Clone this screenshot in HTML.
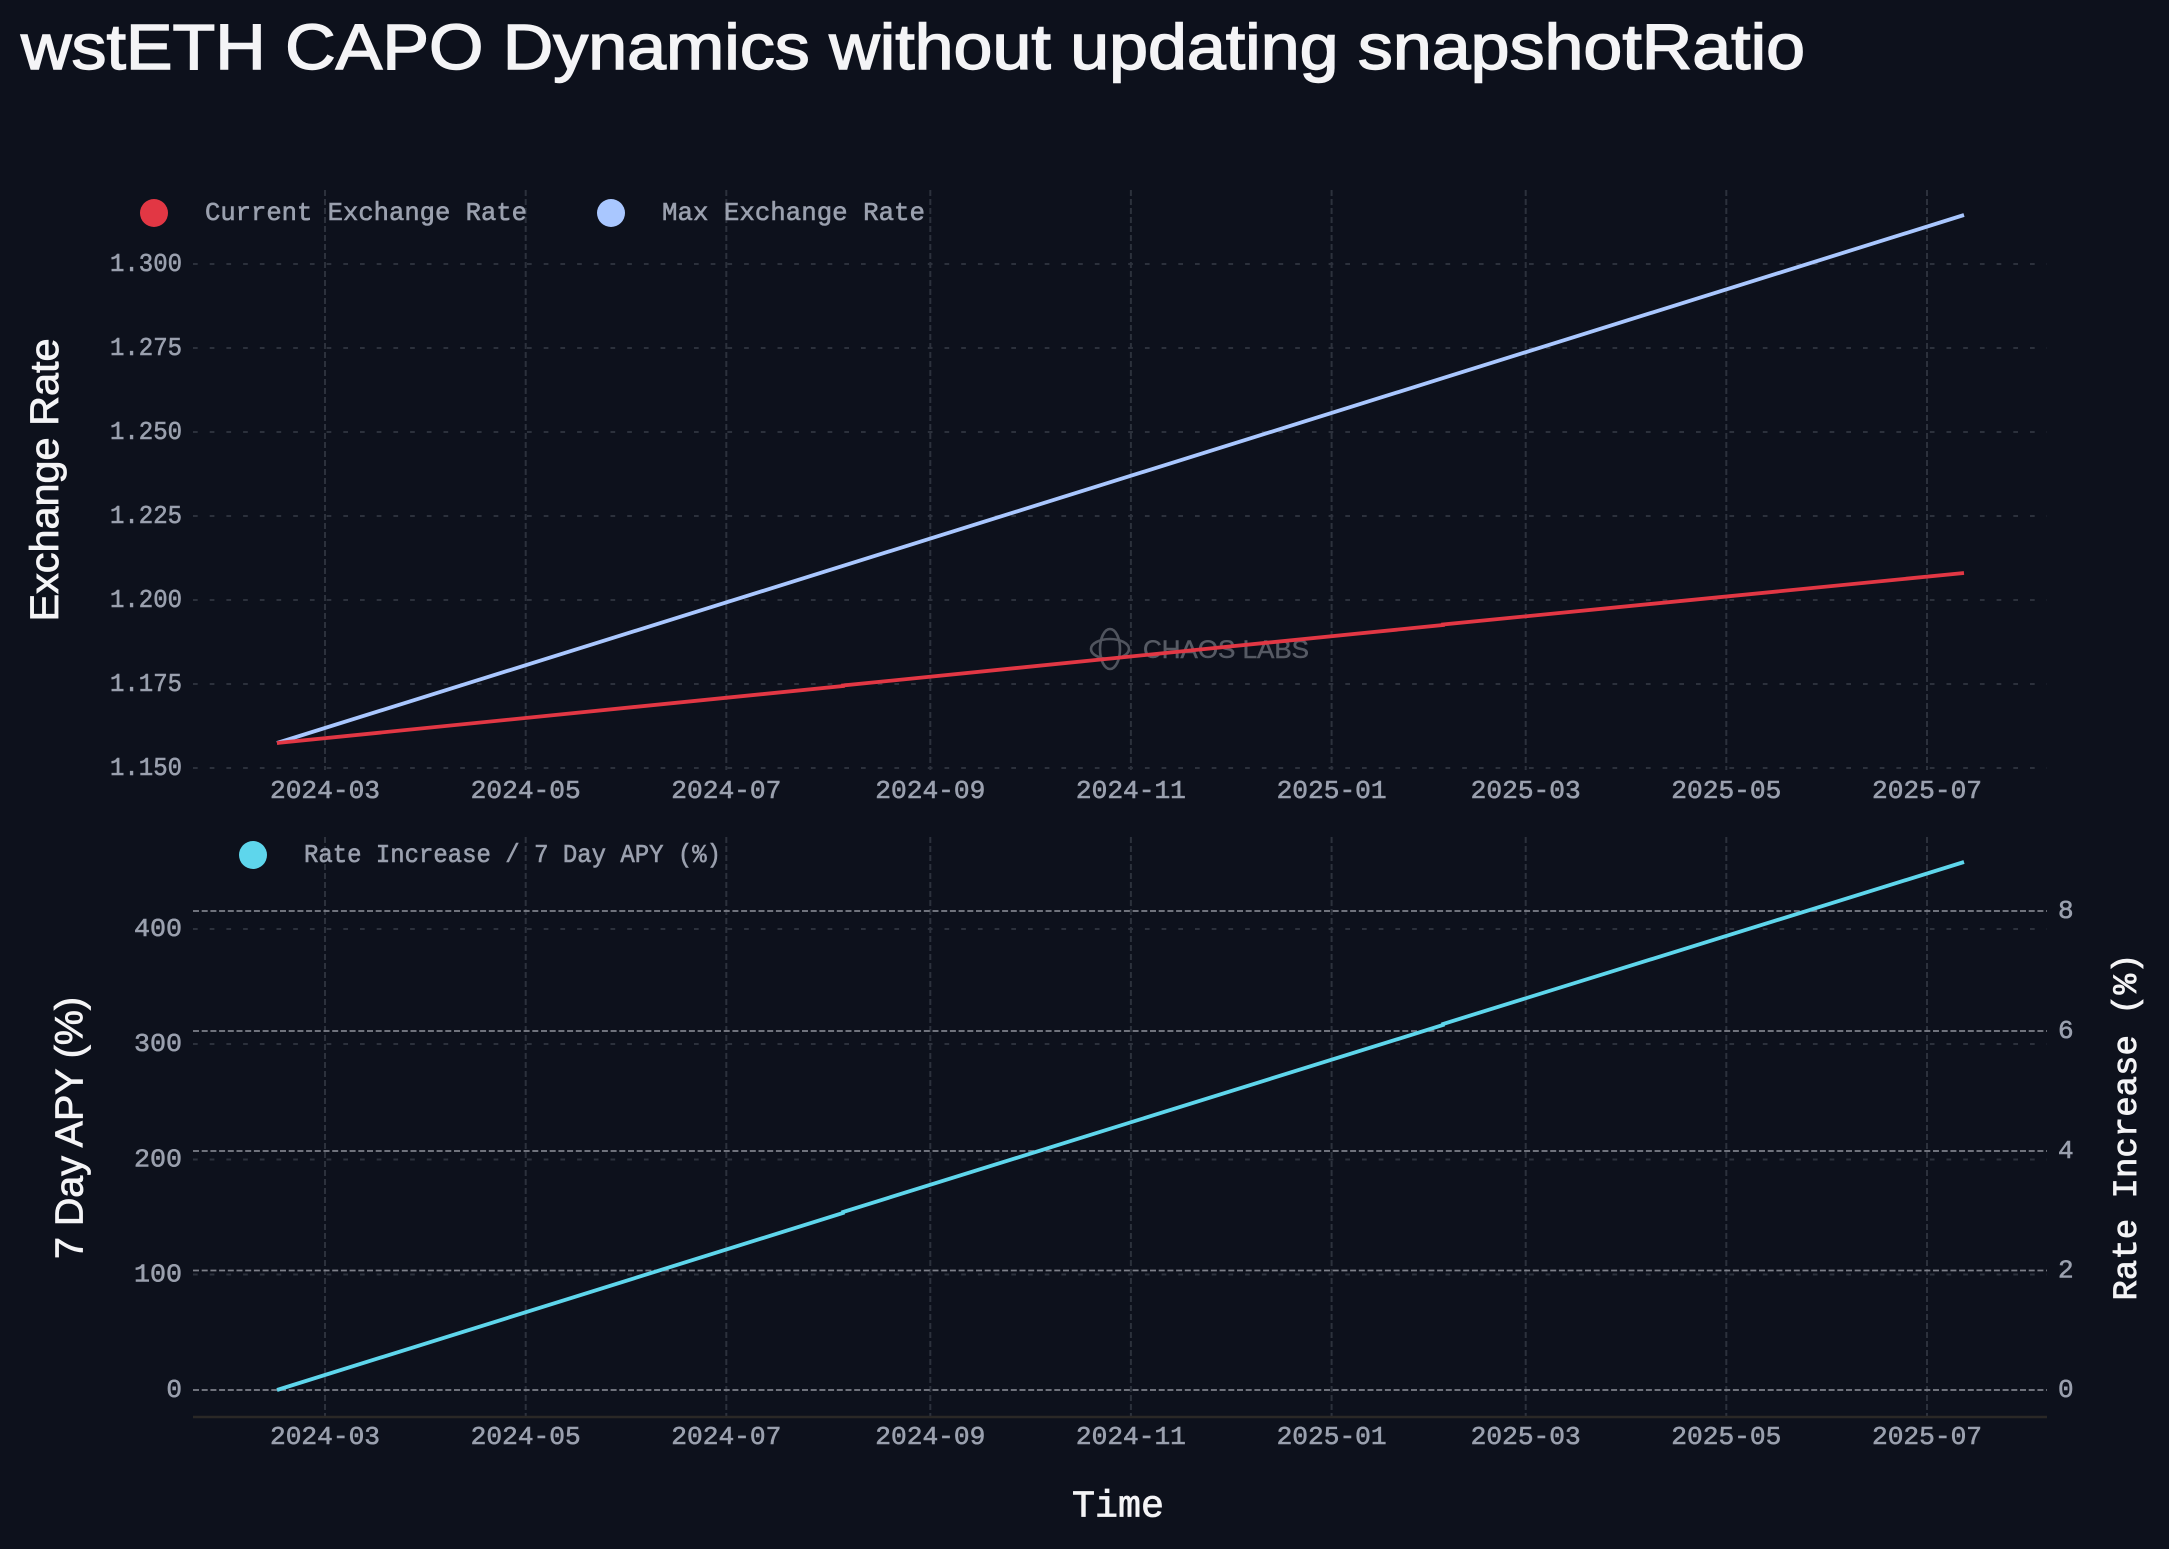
<!DOCTYPE html>
<html>
<head>
<meta charset="utf-8">
<style>
  html, body { margin: 0; padding: 0; background: #0d111c; }
  svg { display: block; }
  .tick { font-family: "Liberation Mono", monospace; font-size: 26px; fill: #9aa0ae; stroke: #9aa0ae; stroke-width: 0.6px; }
  .leg { font-family: "Liberation Mono", monospace; font-size: 26px; fill: #9aa0ae; stroke: #9aa0ae; stroke-width: 0.6px; }
  .sans { font-family: "Liberation Sans", sans-serif; fill: #f4f4f6; stroke: #f4f4f6; stroke-width: 0.8px; }
  .mono { font-family: "Liberation Mono", monospace; fill: #f4f4f6; stroke: #f4f4f6; stroke-width: 0.8px; }
</style>
</head>
<body>
<svg width="2169" height="1549" viewBox="0 0 2169 1549" xmlns="http://www.w3.org/2000/svg">
  <rect x="0" y="0" width="2169" height="1549" fill="#0d111c"/>

  <!-- Title -->
  <text class="sans" x="21" y="69" font-size="64" style="stroke-width:1.4px" textLength="1784" lengthAdjust="spacingAndGlyphs">wstETH CAPO Dynamics without updating snapshotRatio</text>

  <!-- ================= TOP PLOT ================= -->
  <g stroke="#2c313c" stroke-width="2" stroke-dasharray="4.7 12">
    <line x1="193" y1="264" x2="2047" y2="264"/>
    <line x1="193" y1="348" x2="2047" y2="348"/>
    <line x1="193" y1="432" x2="2047" y2="432"/>
    <line x1="193" y1="516" x2="2047" y2="516"/>
    <line x1="193" y1="600" x2="2047" y2="600"/>
    <line x1="193" y1="684" x2="2047" y2="684"/>
    <line x1="193" y1="768" x2="2047" y2="768"/>
  </g>
  <g stroke="#2c313c" stroke-width="2" stroke-dasharray="6 3">
    <line x1="325" y1="190" x2="325" y2="770"/>
    <line x1="525.7" y1="190" x2="525.7" y2="770"/>
    <line x1="726.3" y1="190" x2="726.3" y2="770"/>
    <line x1="930.3" y1="190" x2="930.3" y2="770"/>
    <line x1="1130.9" y1="190" x2="1130.9" y2="770"/>
    <line x1="1331.6" y1="190" x2="1331.6" y2="770"/>
    <line x1="1525.7" y1="190" x2="1525.7" y2="770"/>
    <line x1="1726.3" y1="190" x2="1726.3" y2="770"/>
    <line x1="1927" y1="190" x2="1927" y2="770"/>
  </g>

  <g class="tick" text-anchor="end" dominant-baseline="central">
    <text x="182" y="264" textLength="72" lengthAdjust="spacingAndGlyphs">1.300</text>
    <text x="182" y="348" textLength="72" lengthAdjust="spacingAndGlyphs">1.275</text>
    <text x="182" y="432" textLength="72" lengthAdjust="spacingAndGlyphs">1.250</text>
    <text x="182" y="516" textLength="72" lengthAdjust="spacingAndGlyphs">1.225</text>
    <text x="182" y="600" textLength="72" lengthAdjust="spacingAndGlyphs">1.200</text>
    <text x="182" y="684" textLength="72" lengthAdjust="spacingAndGlyphs">1.175</text>
    <text x="182" y="768" textLength="72" lengthAdjust="spacingAndGlyphs">1.150</text>
  </g>

  <g class="tick" text-anchor="middle" dominant-baseline="central">
    <text x="325" y="791" textLength="110" lengthAdjust="spacingAndGlyphs">2024-03</text>
    <text x="525.7" y="791" textLength="110" lengthAdjust="spacingAndGlyphs">2024-05</text>
    <text x="726.3" y="791" textLength="110" lengthAdjust="spacingAndGlyphs">2024-07</text>
    <text x="930.3" y="791" textLength="110" lengthAdjust="spacingAndGlyphs">2024-09</text>
    <text x="1130.9" y="791" textLength="110" lengthAdjust="spacingAndGlyphs">2024-11</text>
    <text x="1331.6" y="791" textLength="110" lengthAdjust="spacingAndGlyphs">2025-01</text>
    <text x="1525.7" y="791" textLength="110" lengthAdjust="spacingAndGlyphs">2025-03</text>
    <text x="1726.3" y="791" textLength="110" lengthAdjust="spacingAndGlyphs">2025-05</text>
    <text x="1927" y="791" textLength="110" lengthAdjust="spacingAndGlyphs">2025-07</text>
  </g>

  <text class="sans" font-size="40" text-anchor="middle" dominant-baseline="central" transform="translate(45,480) rotate(-90)" textLength="283" lengthAdjust="spacingAndGlyphs">Exchange Rate</text>

  <!-- watermark -->
  <g>
    <ellipse cx="1110" cy="649" rx="10" ry="20" fill="none" stroke="#50545e" stroke-width="2.6"/>
    <ellipse cx="1110" cy="649" rx="19" ry="10" fill="none" stroke="#50545e" stroke-width="2.6"/>
    <text x="1143" y="650" font-family="Liberation Sans, sans-serif" font-size="25" fill="#565a64" stroke="#565a64" stroke-width="0.5" dominant-baseline="central" textLength="166" lengthAdjust="spacingAndGlyphs">CHAOS LABS</text>
  </g>

  <!-- series top -->
  <polyline points="277,743 1964,215" fill="none" stroke="#a9c7ff" stroke-width="3.8"/>
  <polyline points="277,743 843,686 843,685.5 1443,625 1443,624.5 1964,573" fill="none" stroke="#e23744" stroke-width="3.8"/>

  <!-- legend top -->
  <circle cx="154" cy="213" r="14" fill="#e23744"/>
  <text class="leg" x="205" y="213" dominant-baseline="central" textLength="322" lengthAdjust="spacingAndGlyphs">Current Exchange Rate</text>
  <circle cx="611" cy="213" r="14" fill="#a9c7ff"/>
  <text class="leg" x="662" y="213" dominant-baseline="central" textLength="263" lengthAdjust="spacingAndGlyphs">Max Exchange Rate</text>

  <!-- ================= BOTTOM PLOT ================= -->
  <g stroke="#2c313c" stroke-width="2" stroke-dasharray="4.7 12">
    <line x1="193" y1="1274.5" x2="2047" y2="1274.5"/>
    <line x1="193" y1="1159.5" x2="2047" y2="1159.5"/>
    <line x1="193" y1="1044" x2="2047" y2="1044"/>
    <line x1="193" y1="929" x2="2047" y2="929"/>
  </g>
  <g stroke="#2c313c" stroke-width="2" stroke-dasharray="6 3">
    <line x1="325" y1="837" x2="325" y2="1417"/>
    <line x1="525.7" y1="837" x2="525.7" y2="1417"/>
    <line x1="726.3" y1="837" x2="726.3" y2="1417"/>
    <line x1="930.3" y1="837" x2="930.3" y2="1417"/>
    <line x1="1130.9" y1="837" x2="1130.9" y2="1417"/>
    <line x1="1331.6" y1="837" x2="1331.6" y2="1417"/>
    <line x1="1525.7" y1="837" x2="1525.7" y2="1417"/>
    <line x1="1726.3" y1="837" x2="1726.3" y2="1417"/>
    <line x1="1927" y1="837" x2="1927" y2="1417"/>
  </g>
  <g stroke="#7d8089" stroke-width="1.8" stroke-dasharray="6 2.7">
    <line x1="193" y1="1390" x2="2047" y2="1390"/>
    <line x1="193" y1="1270.5" x2="2047" y2="1270.5"/>
    <line x1="193" y1="1151" x2="2047" y2="1151"/>
    <line x1="193" y1="1031" x2="2047" y2="1031"/>
    <line x1="193" y1="911" x2="2047" y2="911"/>
  </g>
  <line x1="193" y1="1417" x2="2047" y2="1417" stroke="#2a2826" stroke-width="2.5"/>

  <g class="tick" text-anchor="end" dominant-baseline="central">
    <text x="182" y="1390">0</text>
    <text x="182" y="1274.5" textLength="48" lengthAdjust="spacingAndGlyphs">100</text>
    <text x="182" y="1159.5" textLength="48" lengthAdjust="spacingAndGlyphs">200</text>
    <text x="182" y="1044" textLength="48" lengthAdjust="spacingAndGlyphs">300</text>
    <text x="182" y="929" textLength="48" lengthAdjust="spacingAndGlyphs">400</text>
  </g>
  <g class="tick" text-anchor="start" dominant-baseline="central">
    <text x="2058" y="1390">0</text>
    <text x="2058" y="1270.5">2</text>
    <text x="2058" y="1151">4</text>
    <text x="2058" y="1031">6</text>
    <text x="2058" y="911">8</text>
  </g>

  <g class="tick" text-anchor="middle" dominant-baseline="central">
    <text x="325" y="1437" textLength="110" lengthAdjust="spacingAndGlyphs">2024-03</text>
    <text x="525.7" y="1437" textLength="110" lengthAdjust="spacingAndGlyphs">2024-05</text>
    <text x="726.3" y="1437" textLength="110" lengthAdjust="spacingAndGlyphs">2024-07</text>
    <text x="930.3" y="1437" textLength="110" lengthAdjust="spacingAndGlyphs">2024-09</text>
    <text x="1130.9" y="1437" textLength="110" lengthAdjust="spacingAndGlyphs">2024-11</text>
    <text x="1331.6" y="1437" textLength="110" lengthAdjust="spacingAndGlyphs">2025-01</text>
    <text x="1525.7" y="1437" textLength="110" lengthAdjust="spacingAndGlyphs">2025-03</text>
    <text x="1726.3" y="1437" textLength="110" lengthAdjust="spacingAndGlyphs">2025-05</text>
    <text x="1927" y="1437" textLength="110" lengthAdjust="spacingAndGlyphs">2025-07</text>
  </g>

  <text class="sans" font-size="39" text-anchor="middle" dominant-baseline="central" transform="translate(70,1128) rotate(-90)" textLength="262" lengthAdjust="spacingAndGlyphs">7 Day APY (%)</text>
  <text class="mono" font-size="34" text-anchor="middle" dominant-baseline="central" transform="translate(2128,1127) rotate(-90)" textLength="347" lengthAdjust="spacingAndGlyphs">Rate Increase (%)</text>
  <text class="mono" font-size="38" text-anchor="middle" dominant-baseline="central" x="1118" y="1507" textLength="92" lengthAdjust="spacingAndGlyphs">Time</text>

  <!-- series bottom -->
  <polyline points="277,1390 843,1213 843,1212 1443,1025 1443,1024 1964,862" fill="none" stroke="#5ed6ec" stroke-width="3.8"/>

  <!-- legend bottom -->
  <circle cx="253" cy="855" r="14" fill="#5ed6ec"/>
  <text class="leg" x="304" y="855" dominant-baseline="central" textLength="417" lengthAdjust="spacingAndGlyphs">Rate Increase / 7 Day APY (%)</text>
</svg>
</body>
</html>
